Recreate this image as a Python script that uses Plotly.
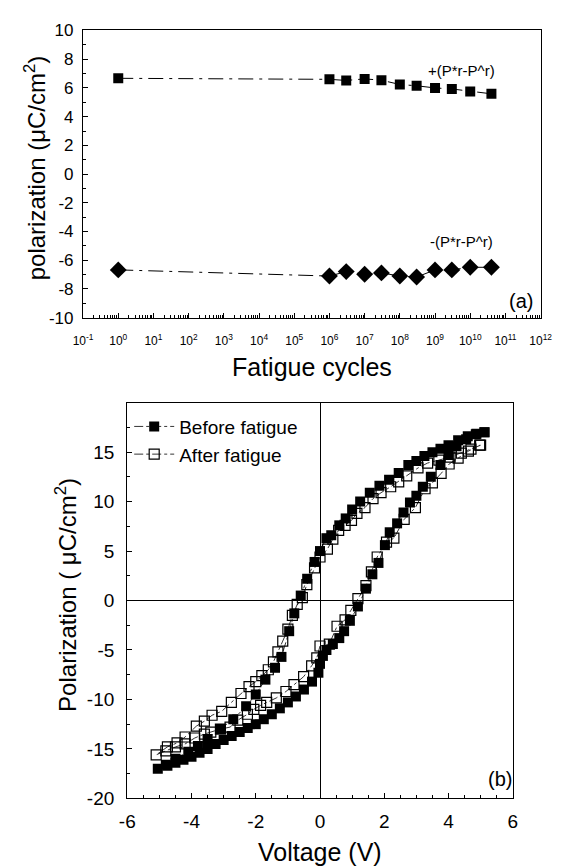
import plotly.graph_objects as go

W, H = 568, 866
FONT = "Liberation Sans, Arial, sans-serif"

# ---------- panel (a) data ----------
cycles = [1, 1e6, 3e6, 1e7, 3e7, 1e8, 3e8, 1e9, 3e9, 1e10, 4e10]
p_plus = [6.67, 6.6, 6.52, 6.63, 6.54, 6.24, 6.15, 6.0, 5.93, 5.75, 5.59]
p_minus = [-6.67, -7.10, -6.79, -6.97, -6.88, -7.10, -7.17, -6.67, -6.67, -6.49, -6.49]
a_xtick_vals = [0.1, 1, 10, 1e2, 1e3, 1e4, 1e5, 1e6, 1e7, 1e8, 1e9, 1e10, 1e11, 1e12]
a_xtick_text = ["10<sup>-1</sup>", "10<sup>0</sup>", "10<sup>1</sup>", "10<sup>2</sup>",
                "10<sup>3</sup>", "10<sup>4</sup>", "10<sup>5</sup>", "10<sup>6</sup>",
                "10<sup>7</sup>", "10<sup>8</sup>", "10<sup>9</sup>", "10<sup>10</sup>",
                "10<sup>11</sup>", "10<sup>12</sup>"]
a_ytick_vals = [-10, -8, -6, -4, -2, 0, 2, 4, 6, 8, 10]
a_ytick_text = ["-10", "-8", "-6", "-4", "-2", "0", "2", "4", "6", "8", "10"]

# ---------- panel (b) data ----------
v_before = [5.12, 4.87, 4.6, 4.3, 4.0, 3.75, 3.5, 3.25, 3.0, 2.75, 2.45, 2.15, 1.85, 1.55,
            1.25, 1.0, 0.8, 0.6, 0.35, 0.2, 0.0, -0.17, -0.4, -0.6, -0.8, -0.96, -1.2,
            -1.4, -1.7, -2.0, -2.3, -2.7, -3.1, -3.5, -3.8, -4.1, -4.5, -4.8, -5.05,
            -4.75, -4.5, -4.25, -4.0, -3.75, -3.5, -3.25, -3.0, -2.75, -2.5, -2.25, -2.0,
            -1.75, -1.5, -1.25, -1.0, -0.75, -0.5, -0.25, -0.05, 0.0, 0.09, 0.2, 0.4,
            0.6, 0.75, 0.93, 1.18, 1.43, 1.63, 1.82, 2.02, 2.17, 2.4, 2.6, 2.8, 3.0,
            3.2, 3.45, 3.75, 4.0, 4.25, 4.55, 4.85, 5.12]
p_before = [17.0, 16.85, 16.6, 16.2, 15.7, 15.35, 15.0, 14.6, 14.1, 13.7, 12.9, 12.2, 11.6,
            10.9, 10.0, 9.2, 8.3, 7.6, 6.6, 6.3, 5.0, 3.9, 2.2, 0.5, -1.3, -3.1, -5.7,
            -6.8, -8.0, -9.5, -10.7, -12.0, -13.0, -14.0, -14.7, -15.3, -16.0, -16.6, -17.0,
            -16.7, -16.4, -16.1, -15.8, -15.4, -15.0, -14.5, -14.1, -13.7, -13.3, -12.9,
            -12.5, -12.0, -11.5, -10.9, -10.3, -9.7, -9.0, -8.2, -7.3, -6.4, -5.6, -5.0,
            -4.4, -3.8, -3.1, -2.05, -0.6, 1.2, 2.65, 3.8, 5.6, 6.9, 7.8, 8.9, 9.9, 10.6,
            11.5, 12.5, 13.7, 14.7, 15.6, 16.3, 16.8, 17.0]

v_after = [5.0, 4.7, 4.4, 4.05, 3.7, 3.35, 3.05, 2.7, 2.45, 2.2, 1.9, 1.65, 1.4, 1.15, 0.98,
           0.78, 0.58, 0.4, 0.23, 0.0, -0.17, -0.41, -0.55, -0.71, -0.86, -1.0, -1.16,
           -1.31, -1.45, -1.61, -1.81, -2.0, -2.21, -2.46, -2.76, -3.06, -3.36, -3.6,
           -3.85, -4.2, -4.45, -4.75, -5.1,
           -4.8, -4.5, -4.2, -3.9, -3.6, -3.4, -3.1, -2.8, -2.56, -2.26, -2.06, -1.85,
           -1.66, -1.36, -1.06, -0.81, -0.51, -0.26, -0.1, 0.0, 0.29, 0.53, 0.78, 0.96,
           1.18, 1.43, 1.6, 1.78, 2.07, 2.3, 2.62, 2.97, 3.27, 3.5, 3.77, 4.02, 4.3,
           4.62, 4.97]
p_after = [15.7, 15.3, 14.9, 14.5, 14.2, 13.9, 13.4, 12.6, 12.0, 11.5, 10.9, 10.3, 9.4, 8.8,
           8.1, 7.6, 7.1, 6.2, 5.2, 4.4, 3.3, 1.6, 0.3, -0.4, -1.5, -2.9, -4.1, -5.2, -6.2,
           -7.0, -7.6, -8.2, -8.7, -9.4, -10.3, -11.2, -11.6, -12.2, -12.7, -13.8, -14.4,
           -14.8, -15.6,
           -15.2, -14.8, -14.5, -13.9, -13.5, -13.3, -13.0, -12.8, -12.1, -11.5, -11.0,
           -10.6, -10.3, -9.85, -9.2, -8.5, -7.7, -6.6, -5.8, -4.6, -4.4, -2.6, -1.95,
           -1.0, 0.2, 1.5, 2.9, 4.4, 5.9, 6.3, 8.2, 9.4, 11.3, 11.9, 12.85, 13.8, 14.4,
           15.1, 15.7]
b_xtick_vals = [-6, -4, -2, 0, 2, 4, 6]
b_xtick_text = ["-6", "-4", "-2", "0", "2", "4", "6"]
b_ytick_vals = [-20, -15, -10, -5, 0, 5, 10, 15]
b_ytick_text = ["-20", "-15", "-10", "-5", "0", "5", "10", "15"]

# ---------- figure ----------
fig = go.Figure()

fig.add_trace(go.Scatter(
    x=cycles, y=p_plus, mode="lines+markers", xaxis="x", yaxis="y",
    line=dict(color="black", width=1, dash="longdashdot"),
    marker=dict(symbol="square", size=10, color="black"), showlegend=False))
fig.add_trace(go.Scatter(
    x=cycles, y=p_minus, mode="lines+markers", xaxis="x", yaxis="y",
    line=dict(color="black", width=1, dash="longdashdot"),
    marker=dict(symbol="diamond", size=13, color="black"), showlegend=False))

fig.add_trace(go.Scatter(
    x=v_before, y=p_before, mode="lines+markers", xaxis="x2", yaxis="y2",
    name="Before fatigue",
    line=dict(color="black", width=0.8, dash="dashdot"),
    marker=dict(symbol="square", size=10, color="black")))
fig.add_trace(go.Scatter(
    x=v_after, y=p_after, mode="lines+markers", xaxis="x2", yaxis="y2",
    name="After fatigue",
    line=dict(color="black", width=0.8, dash="dashdot"),
    marker=dict(symbol="square-open", size=10, color="black", line=dict(width=1.2))))

axis_common = dict(showline=True, linecolor="black", linewidth=1.3, mirror=True,
                   ticks="inside", ticklen=5, tickwidth=1, tickcolor="black",
                   showgrid=False, zeroline=False,
                   tickfont=dict(family=FONT, size=16, color="black"))

fig.update_layout(
    width=W, height=H,
    margin=dict(l=0, r=0, t=0, b=0),
    paper_bgcolor="white", plot_bgcolor="white",
    font=dict(family=FONT, color="black"),
    xaxis=dict(axis_common, domain=[76 / W, 552 / W], anchor="y", type="log",
               range=[-1, 12], tickvals=a_xtick_vals, ticktext=a_xtick_text,
               tickfont=dict(family=FONT, size=12, color="black"),
               ticklabelstandoff=12,
               minor=dict(ticks="inside", ticklen=3, tickcolor="black", dtick="D1")),
    yaxis=dict(axis_common, domain=[1 - 316 / H, 1 - 22 / H], anchor="x",
               range=[-10, 10], tickvals=a_ytick_vals, ticktext=a_ytick_text,
               tickfont=dict(family=FONT, size=17, color="black"),
               ticklabelstandoff=5,
               minor=dict(ticks="inside", ticklen=3, tickcolor="black", dtick=1)),
    xaxis2=dict(axis_common, domain=[122 / W, 523 / W], anchor="y2",
                range=[-6, 6], tickvals=b_xtick_vals, ticktext=b_xtick_text,
                tickfont=dict(family=FONT, size=19, color="black"),
                ticklabelstandoff=6,
                zeroline=True, zerolinecolor="black", zerolinewidth=1,
                minor=dict(ticks="inside", ticklen=3, tickcolor="black", dtick=0.5)),
    yaxis2=dict(axis_common, domain=[1 - 808 / H, 1 - 403 / H], anchor="x2",
                range=[-20, 20], tickvals=b_ytick_vals, ticktext=b_ytick_text,
                tickfont=dict(family=FONT, size=19, color="black"),
                ticklabelstandoff=8,
                zeroline=True, zerolinecolor="black", zerolinewidth=1,
                minor=dict(ticks="inside", ticklen=3, tickcolor="black", dtick=2.5)),
    legend=dict(x=124 / W, y=1 - 408 / H, xanchor="left", yanchor="top",
                bgcolor="rgba(0,0,0,0)", font=dict(family=FONT, size=19, color="black"),
                tracegroupgap=2, itemwidth=40),
)

annotations = [
    dict(text="+(P*r-P^r)", x=9.76, y=7.2, xref="x", yref="y", showarrow=False,
         font=dict(family=FONT, size=15, color="black")),
    dict(text="-(P*r-P^r)", x=9.76, y=-4.7, xref="x", yref="y", showarrow=False,
         font=dict(family=FONT, size=15, color="black")),
    dict(text="(a)", x=11.45, y=-8.86, xref="x", yref="y", showarrow=False,
         font=dict(family=FONT, size=20, color="black")),
    dict(text="(b)", x=5.6, y=-18.0, xref="x2", yref="y2", showarrow=False,
         font=dict(family=FONT, size=20, color="black")),
    dict(text="polarization (\u03bcC/cm<sup>2</sup>)", x=26 / W, y=1 - 162 / H,
         xref="paper", yref="paper", showarrow=False, textangle=-90,
         xanchor="center", yanchor="middle",
         font=dict(family=FONT, size=24, color="black")),
    dict(text="Fatigue cycles", x=314 / W, y=1 - 366 / H, xref="paper", yref="paper",
         showarrow=False, xanchor="center", yanchor="middle",
         font=dict(family=FONT, size=25, color="black")),
    dict(text="Polarization ( \u03bcC/cm<sup>2</sup>)", x=58 / W, y=1 - 600 / H,
         xref="paper", yref="paper", showarrow=False, textangle=-90,
         xanchor="center", yanchor="middle",
         font=dict(family=FONT, size=24, color="black")),
    dict(text="Voltage (V)", x=322 / W, y=1 - 863 / H, xref="paper", yref="paper",
         showarrow=False, xanchor="center", yanchor="middle",
         font=dict(family=FONT, size=25, color="black")),
]
fig.update_layout(annotations=annotations)

fig.write_html("out.html")
